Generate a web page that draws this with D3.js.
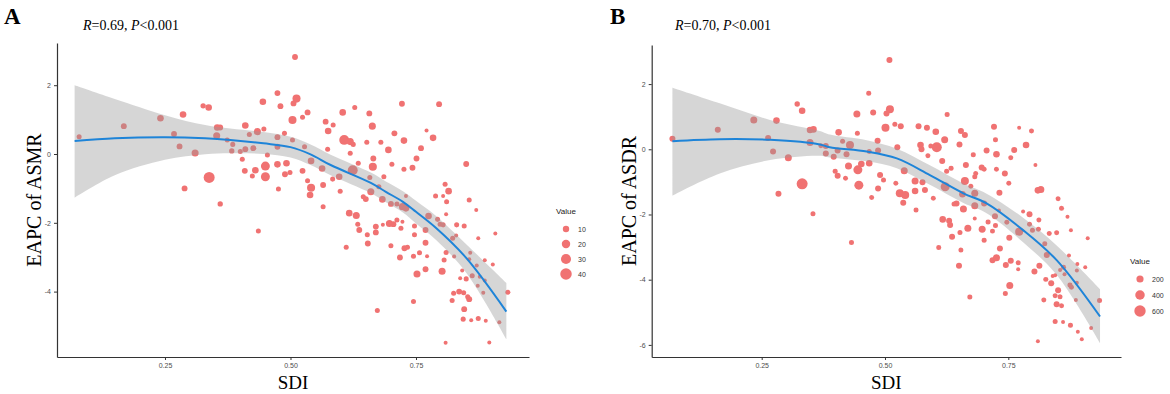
<!DOCTYPE html>
<html>
  <head>
    <meta charset="utf-8">
    <title>EAPC vs SDI</title>
    <style>
      body { margin: 0; background: #fff; }
      svg { display: block; }
    </style>
  </head>
  <body>
    <svg id="chart" width="1170" height="394"></svg>
    <script src="https://d3js.org/d3.v7.min.js"></script>
    <script>
      // ---- panel A : EAPC of ASMR ----
      const sdiA = [0.079,0.168,0.241,0.286,0.268,0.279,0.31,0.289,0.338,0.326,0.337,0.354,0.36,0.353,0.374,0.385,0.383,0.36,0.436,0.41,
        0.445,0.434,0.447,0.418,0.40,0.41,0.426,0.404,0.409,0.43,0.424,0.45,0.45,0.454,0.474,0.48,0.512,0.506,0.534,0.524,
        0.504,0.474,0.488,0.504,0.474,0.474,0.492,0.499,0.489,0.476,0.524,0.534,0.541,0.539,0.565,0.541,0.528,0.563,0.574,0.57,
        0.575,0.585,0.604,0.628,0.657,0.663,0.607,0.619,0.625,0.652,0.68,0.707,0.726,0.722,0.796,0.784,0.771,0.76,0.751,0.743,
        0.726,0.695,0.665,0.664,0.702,0.624,0.635,0.619,0.597,0.584,0.599,0.658,0.686,0.676,0.66,0.645,0.65,0.683,0.7,0.712,
        0.723,0.73,0.73,0.565,0.617,0.631,0.634,0.637,0.653,0.67,0.67,0.684,0.697,0.705,0.712,0.72,0.723,0.747,0.747,0.769,
        0.769,0.775,0.793,0.798,0.804,0.81,0.831,0.846,0.823,0.83,0.789,0.804,0.811,0.815,0.808,0.856,0.87,0.85,0.81,0.874,
        0.908,0.858,0.611,0.7,0.727,0.733,0.745,0.757,0.772,0.654,0.509,0.718,0.826,0.806,0.752,0.769,0.802,0.856,0.842,0.838,
        0.85,0.862,0.871,0.887,0.903,0.877,0.873,0.884,0.887,0.825,0.836,0.845,0.853,0.856,0.822,0.846,0.844,0.86,0.874,0.889,
        0.916,0.933,0.896,0.809,0.745,0.673]
      const eapcA = [0.50,0.81,1.04,1.15,0.58,0.22,0.03,-1.0,-0.68,1.40,1.35,0.77,0.77,0.53,0.41,0.28,0.09,-1.45,-2.24,0.83,
        1.52,0.65,0.73,0.57,0.07,0.14,0.17,-0.15,-0.49,-0.47,-0.64,-0.35,-0.66,-0.03,1.77,1.39,1.61,1.47,1.21,1.07,
        0.99,0.49,0.6,0.41,0.21,-0.3,-0.27,-0.54,-0.59,-1.02,-0.49,-0.78,-0.98,-1.19,-0.9,-0.2,0.21,-0.42,0.14,0.94,
        0.67,0.84,1.21,1.35,1.18,0.81,0.41,0.36,0.28,0.34,0.34,0.6,0.39,1.46,1.45,0.47,0.68,0.17,-0.13,-0.4,
        -0.44,0.12,-0.13,-0.37,-0.3,-0.47,-0.27,0.02,-0.66,-0.73,-1.08,-0.68,-0.66,-0.95,-1.1,-1.24,-1.31,-1.32,-1.45,-1.45,
        -1.53,-1.22,-1.58,-1.53,-1.72,-1.79,-2.04,-2.21,-2.35,-2.11,-2.28,-2.06,-2.02,-2.04,-1.92,-2.16,-1.97,-2.09,-2.35,-2.21,
        -2.58,-1.8,-1.9,-2.04,-2.06,-1.75,-2.06,-2.09,-2.45,-2.37,-1.22,-1.22,-1.39,-1.08,-0.88,-1.34,-1.63,-0.29,-2.86,-2.45,
        -2.31,-2.87,-2.71,-2.67,-2.74,-2.71,-2.97,-2.87,-2.97,-2.6,2.82,-3.01,-2.98,-3.08,-3.49,-3.35,-3.41,-3.06,-3.39,-3.61,
        -3.63,-3.54,-3.24,-3.09,-3.21,-3.57,-3.83,-4.03,-3.68,-4.05,-4.0,-4.03,-4.15,-4.22,-4.26,-4.51,-4.8,-4.83,-4.78,-4.85,
        -4.89,-4.02,-5.48,-5.49,-4.29,-4.55]
      const valueA = [5,8,11,11,8,8,13,8,36,6,11,11,8,13,5,5,6,6,5,11,
        11,13,5,5,5,8,8,5,8,11,5,23,23,5,8,8,18,8,8,5,
        18,8,5,5,8,11,11,5,8,5,8,5,18,11,8,11,5,11,5,8,
        11,5,11,5,8,13,29,13,5,5,5,8,11,8,8,11,2,8,8,8,
        5,11,8,18,5,29,5,5,11,5,5,5,5,5,13,5,8,11,8,5,
        13,2,11,5,11,13,5,8,5,8,8,2,13,8,5,5,2,5,5,8,
        8,11,5,5,5,2,5,5,5,2,5,2,5,11,5,5,2,8,5,2,
        2,2,5,5,8,5,5,5,2,8,8,8,2,5,13,8,13,2,2,2,
        5,5,2,2,2,2,2,2,2,5,8,5,5,8,5,8,5,2,5,2,
        2,5,2,2,5,5]
      const fitSdiA = [0.07,0.15,0.25,0.33,0.38,0.446,0.5,0.54,0.58,0.66,0.69,0.724,0.75,0.79,0.85,0.93]
      const fitA    = [0.38,0.46,0.49,0.46,0.41,0.31,0.2,-0.01,-0.32,-0.84,-1.1,-1.39,-1.68,-2.15,-3.02,-4.58]
      const loA     = [-1.27,-0.62,-0.17,-0.01,0.02,0.0,-0.1,-0.32,-0.62,-1.14,-1.4,-1.7,-2.02,-2.5,-3.45,-5.38]
      const hiA     = [2.0,1.6,1.13,0.84,0.74,0.64,0.5,0.28,-0.02,-0.54,-0.8,-1.08,-1.36,-1.8,-2.62,-3.75]
      const legendA = [10,20,30,40]

      // ---- panel B : EAPC of ASDR ----
      const sdiB = [0.069,0.161,0.234,0.28,0.263,0.273,0.304,0.284,0.332,0.322,0.332,0.348,0.355,0.348,0.37,0.38,0.38,0.396,0.404,0.414,
        0.406,0.422,0.429,0.354,0.432,0.443,0.444,0.467,0.399,0.404,0.42,0.426,0.445,0.452,0.447,0.468,0.468,0.509,0.476,0.51,
        0.503,0.501,0.52,0.532,0.568,0.585,0.603,0.626,0.654,0.662,0.721,0.772,0.797,0.724,0.762,0.786,0.755,0.805,0.726,0.706,
        0.679,0.651,0.621,0.605,0.593,0.572,0.574,0.587,0.616,0.634,0.625,0.664,0.696,0.701,0.726,0.743,0.682,0.684,0.662,0.622,
        0.576,0.561,0.561,0.539,0.522,0.53,0.541,0.537,0.563,0.581,0.598,0.657,0.674,0.682,0.682,0.701,0.645,0.659,0.64,0.732,
        0.751,0.723,0.731,0.682,0.709,0.718,0.724,0.747,0.697,0.701,0.668,0.652,0.636,0.617,0.63,0.632,0.609,0.654,0.733,0.752,
        0.772,0.793,0.78,0.793,0.812,0.799,0.811,0.833,0.848,0.816,0.81,0.851,0.858,0.87,0.877,0.911,0.873,0.824,0.486,0.485,
        0.49,0.497,0.486,0.473,0.525,0.65,0.672,0.718,0.726,0.745,0.755,0.77,0.77,0.753,0.744,0.803,0.813,0.828,0.826,0.837,
        0.84,0.845,0.822,0.851,0.845,0.855,0.848,0.858,0.845,0.861,0.876,0.891,0.899,0.918,0.935,0.81,0.89,0.906,0.889,0.855,
        0.862,0.864,0.875,0.878,0.887,0.889]
      const eapcB = [0.32,0.6,0.9,0.88,0.35,-0.07,-0.26,-1.36,-1.06,1.39,1.18,0.59,0.61,0.21,0.11,0.1,-0.13,-0.23,-0.04,0.25,
        0.52,-0.15,0.13,-1.98,-2.86,1.08,0.49,1.72,-0.67,-0.81,-0.89,-0.51,-0.63,-0.45,-1.1,-0.43,-0.07,2.74,1.13,1.23,
        1.1,0.66,0.77,0.71,0.71,0.66,0.54,1.07,0.56,0.44,0.69,0.66,0.56,0.29,-0.02,0.13,-0.26,-0.48,-0.15,-0.04,
        -0.17,0.15,0.29,0.06,0.1,0.13,0,-0.2,-0.36,-0.58,-0.67,-0.48,-0.56,-0.61,-0.61,-0.74,-0.84,-0.74,-0.97,-1.15,
        -1.01,-0.97,-1.28,-0.66,-1.04,-1.35,-1.4,-1.64,-1.86,-1.25,-1.5,-1.38,-1.13,-1.35,-1.73,-1.66,-1.66,-1.83,-1.68,-1.33,
        -1.04,-2.05,-1.88,-2.12,-2.23,-2.51,-2.34,-2.24,-2.45,-2.79,-2.42,-2.55,-2.68,-2.15,-2.19,-2.32,-3.01,-3.09,-3.04,-2.71,
        -2.53,-1.99,-1.91,-2.3,-2.17,-2.48,-2.45,-2.58,-2.56,-1.23,-1.26,-1.52,-1.81,-2.07,-2.48,-2.73,-3.26,-2.9,-0.04,0.26,
        -0.79,-0.94,-1.2,-1.48,0.06,-3.57,-4.53,-3.4,-3.33,-3.55,-3.42,-3.48,-3.68,-4.18,-4.42,-3.75,-3.57,-3.24,-3.99,-4.11,
        -3.89,-3.86,-4.62,-4.32,-4.49,-4.52,-4.75,-4.8,-5.28,-5.3,-5.4,-5.6,-5.83,-5.48,-4.64,-5.89,-3.52,-3.62,-3.72,-3.7,
        -3.62,-3.83,-4.16,-4.23,-4.62,-4.09]
      const valueB = [122,122,188,160,122,122,188,122,553,87,160,160,160,188,66,122,122,122,122,66,
        160,122,264,66,66,188,66,66,66,122,66,188,350,160,350,160,66,122,122,264,
        122,264,66,122,122,122,160,66,122,122,122,20,66,66,122,160,66,20,160,122,
        66,122,188,447,66,160,122,66,122,66,66,122,122,66,66,122,66,66,264,350,
        122,188,160,188,66,264,264,122,66,122,66,160,66,188,188,122,122,188,66,122,
        66,122,20,20,66,66,66,66,188,66,188,66,122,160,122,122,66,66,122,122,
        264,122,20,66,66,66,66,66,66,188,160,66,66,20,20,20,20,66,122,122,
        122,66,122,66,122,122,66,122,188,122,122,66,20,188,66,122,122,122,66,122,
        20,20,66,122,66,66,122,66,66,20,66,20,20,20,66,20,20,20,20,20,
        66,20,66,66,20,20]
      const fitSdiB = [0.069,0.165,0.267,0.368,0.388,0.463,0.524,0.591,0.659,0.706,0.78,0.848,0.936]
      const fitB    = [0.25,0.31,0.29,0.15,0.06,-0.07,-0.28,-0.79,-1.35,-1.66,-2.48,-3.4,-5.13]
      const loB     = [-1.42,-0.74,-0.33,-0.2,-0.25,-0.37,-0.58,-1.09,-1.65,-1.96,-2.85,-3.85,-5.94]
      const hiB     = [1.89,1.41,0.9,0.56,0.45,0.28,0.02,-0.49,-1.05,-1.36,-2.1,-2.95,-4.29]
      const legendB = [200,400,600]

      const svg = d3.select('#chart')
      const serif = '"Liberation Serif", "Times New Roman", serif'
      const sans = '"Liberation Sans", Arial, sans-serif'

      function panel(o) {
        const x = d3.scaleLinear().domain(o.xDom).range(o.xRange)
        const y = d3.scaleLinear().domain(o.yDom).range(o.yRange)
        const r = d3.scaleRadial().domain(o.vDom).range([1.8, 6.2])
        const g = svg.append('g')

        // points first, band and line drawn over them like geom_smooth
        g.append('g').selectAll('circle')
          .data(d3.range(o.sdi.length))
          .join('circle')
            .attr('cx', i => x(o.sdi[i]))
            .attr('cy', i => y(o.eapc[i]))
            .attr('r', i => r(o.value[i]))
            .attr('fill', '#F07272')

        const fit = o.fitX.map((v, i) => ({ x: v, y: o.fit[i], lo: o.lo[i], hi: o.hi[i] }))
        g.append('path')
          .datum(fit)
          .attr('d', d3.area().curve(d3.curveCatmullRom)
            .x(d => x(d.x)).y0(d => y(d.lo)).y1(d => y(d.hi)))
          .attr('fill', '#999999')
          .attr('fill-opacity', 0.4)
        g.append('path')
          .datum(fit)
          .attr('d', d3.line().curve(d3.curveCatmullRom).x(d => x(d.x)).y(d => y(d.y)))
          .attr('fill', 'none')
          .attr('stroke', '#1E84D8')
          .attr('stroke-width', 2)

        const xAxis = g.append('g')
          .attr('transform', `translate(0,${o.yRange[0]})`)
          .call(d3.axisBottom(x).tickValues([0.25, 0.5, 0.75]).tickFormat(d3.format('.2f')).tickSize(3).tickSizeOuter(0))
        const yAxis = g.append('g')
          .attr('transform', `translate(${o.xRange[0]},0)`)
          .call(d3.axisLeft(y).tickValues(o.yTicks).tickFormat(d => d).tickSize(3).tickSizeOuter(0))
        ;[xAxis, yAxis].forEach(a => {
          a.select('.domain').attr('stroke', '#333').attr('stroke-width', 1.2)
          a.selectAll('.tick line').attr('stroke', '#333')
          a.selectAll('.tick text').attr('fill', '#4d4d4d').style('font', `7px ${sans}`)
        })

        // titles and labels
        g.append('text').attr('x', o.tagX).attr('y', 24)
          .style('font', `bold 23px ${serif}`).text(o.tag)
        const t = g.append('text').attr('x', o.statX).attr('y', 30).style('font', `14px ${serif}`)
        t.append('tspan').style('font-style', 'italic').text('R')
        t.append('tspan').text(`=${o.rText}, `)
        t.append('tspan').style('font-style', 'italic').text('P')
        t.append('tspan').text('<0.001')
        g.append('text')
          .attr('transform', `translate(${o.xRange[0] - 16},${(o.yRange[0] + o.yRange[1]) / 2}) rotate(-90)`)
          .attr('text-anchor', 'middle')
          .style('font', `20px ${serif}`).text(o.yLabel)
        g.append('text')
          .attr('x', (o.xRange[0] + o.xRange[1]) / 2).attr('y', 389)
          .attr('text-anchor', 'middle')
          .style('font', `19px ${serif}`).text('SDI')

        // size legend
        const lg = g.append('g').attr('transform', `translate(${o.legX},${o.legY})`)
        lg.append('text').attr('x', 0).attr('y', 0).attr('fill', '#222')
          .style('font', `8px ${sans}`).text('Value')
        lg.selectAll('circle').data(o.legend).join('circle')
          .attr('cx', 10).attr('cy', (d, i) => 15 + i * o.legStep)
          .attr('r', d => r(d)).attr('fill', '#F07272')
        lg.selectAll('text.lab').data(o.legend).join('text')
          .attr('class', 'lab')
          .attr('x', 22).attr('y', (d, i) => 15 + i * o.legStep + 2.5)
          .attr('fill', '#333').style('font', `7px ${sans}`).text(d => d)
      }

      panel({
        sdi: sdiA, eapc: eapcA, value: valueA, vDom: [1, 47],
        fitX: fitSdiA, fit: fitA, lo: loA, hi: hiA,
        xDom: [0.0349, 0.9751], xRange: [57, 529],
        yDom: [-5.901, 3.227], yRange: [357, 43], yTicks: [-4, -2, 0, 2],
        tag: 'A', tagX: 4, statX: 83, rText: '0.69', yLabel: 'EAPC of ASMR',
        legend: legendA, legX: 556, legY: 214, legStep: 15
      })
      panel({
        sdi: sdiB, eapc: eapcB, value: valueB, vDom: [5, 720],
        fitX: fitSdiB, fit: fitB, lo: loB, hi: hiB,
        xDom: [0.027, 0.9785], xRange: [651.7, 1121],
        yDom: [-6.371, 3.199], yRange: [357, 45], yTicks: [-6, -4, -2, 0, 2],
        tag: 'B', tagX: 610, statX: 675, rText: '0.70', yLabel: 'EAPC of ASDR',
        legend: legendB, legX: 1130, legY: 264, legStep: 16
      })
    </script>
  </body>
</html>
